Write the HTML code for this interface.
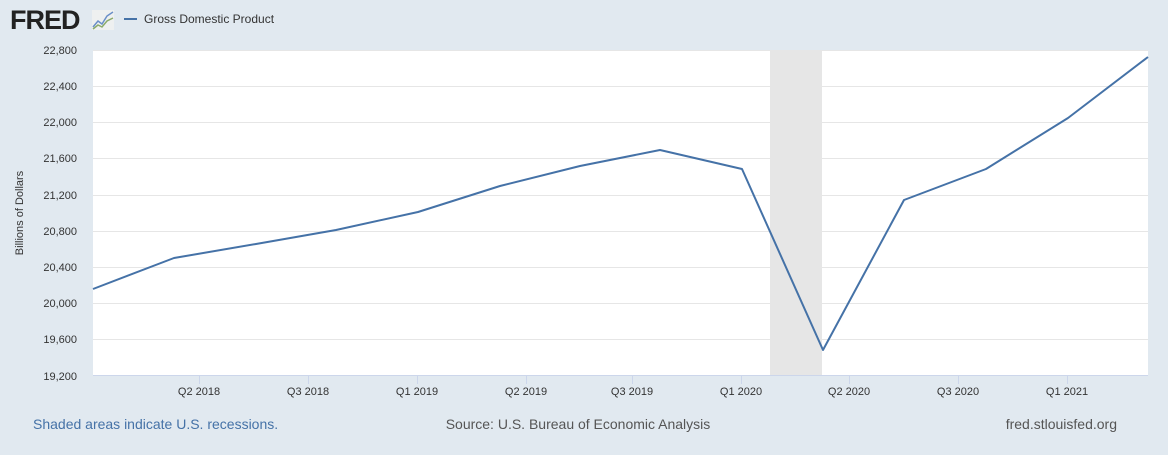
<!DOCTYPE html>
<html><head><style>
body{margin:0;background:#e1e9f0;font-family:"Liberation Sans",sans-serif;}
</style></head><body>
<svg width="1168" height="450" xmlns="http://www.w3.org/2000/svg" font-family="Liberation Sans, sans-serif">
<rect width="1168" height="450" fill="#e1e9f0"/>
<text x="10" y="29" font-size="27" font-weight="bold" fill="#222" letter-spacing="-1">FRED</text>
<rect x="92" y="10" width="22" height="20" fill="#eef0f0"/>
<polyline points="93,27 98,21 102,24 107,16 113,12" fill="none" stroke="#6a8fc8" stroke-width="1.5"/>
<polyline points="93,29 98,25 102,27 107,21 113,18" fill="none" stroke="#8aaa6a" stroke-width="1.5"/>
<line x1="124" y1="19" x2="137" y2="19" stroke="#4572a7" stroke-width="2"/>
<text x="144" y="23" font-size="12" fill="#333">Gross Domestic Product</text>
<rect x="93" y="50" width="1055" height="325" fill="#fff"/>
<rect x="770" y="50" width="52" height="325" fill="#e6e6e6"/>
<g stroke="#e6e6e6" stroke-width="1">
<line x1="93" x2="1148" y1="50.5" y2="50.5"/><line x1="93" x2="1148" y1="86.5" y2="86.5"/><line x1="93" x2="1148" y1="122.5" y2="122.5"/><line x1="93" x2="1148" y1="158.5" y2="158.5"/><line x1="93" x2="1148" y1="195.5" y2="195.5"/><line x1="93" x2="1148" y1="231.5" y2="231.5"/><line x1="93" x2="1148" y1="267.5" y2="267.5"/><line x1="93" x2="1148" y1="303.5" y2="303.5"/><line x1="93" x2="1148" y1="339.5" y2="339.5"/>
</g>
<line x1="93" x2="1148" y1="375.5" y2="375.5" stroke="#ccd6eb"/>
<g stroke="#ccd6eb"><line x1="199.5" x2="199.5" y1="376" y2="384"/><line x1="308.5" x2="308.5" y1="376" y2="384"/><line x1="417.5" x2="417.5" y1="376" y2="384"/><line x1="526.5" x2="526.5" y1="376" y2="384"/><line x1="632.5" x2="632.5" y1="376" y2="384"/><line x1="741.5" x2="741.5" y1="376" y2="384"/><line x1="849.5" x2="849.5" y1="376" y2="384"/><line x1="958.5" x2="958.5" y1="376" y2="384"/><line x1="1067.5" x2="1067.5" y1="376" y2="384"/></g>
<g font-size="11" fill="#333" text-anchor="middle">
<text x="199" y="395">Q2 2018</text><text x="308" y="395">Q3 2018</text><text x="417" y="395">Q1 2019</text><text x="526" y="395">Q2 2019</text><text x="632" y="395">Q3 2019</text><text x="741" y="395">Q1 2020</text><text x="849" y="395">Q2 2020</text><text x="958" y="395">Q3 2020</text><text x="1067" y="395">Q1 2021</text>
</g>
<g font-size="11" fill="#333" text-anchor="end">
<text x="77" y="54">22,800</text><text x="77" y="90">22,400</text><text x="77" y="126">22,000</text><text x="77" y="162">21,600</text><text x="77" y="199">21,200</text><text x="77" y="235">20,800</text><text x="77" y="271">20,400</text><text x="77" y="307">20,000</text><text x="77" y="343">19,600</text><text x="77" y="380">19,200</text>
</g>
<text transform="translate(23,213) rotate(-90)" font-size="11" fill="#333" text-anchor="middle">Billions of Dollars</text>
<polyline fill="none" stroke="#4572a7" stroke-width="2" stroke-linejoin="round" points="93,289 174,258 256,244 336,230 418,212 500,186 580,166 660,150 742,169 823,350 904,200 986,169 1068,118 1148,57"/>
<text x="33" y="429" font-size="14" fill="#4572a7">Shaded areas indicate U.S. recessions.</text>
<text x="578" y="429" font-size="14" fill="#555" text-anchor="middle">Source: U.S. Bureau of Economic Analysis</text>
<text x="1117" y="429" font-size="14" fill="#555" text-anchor="end">fred.stlouisfed.org</text>
</svg>
</body></html>
